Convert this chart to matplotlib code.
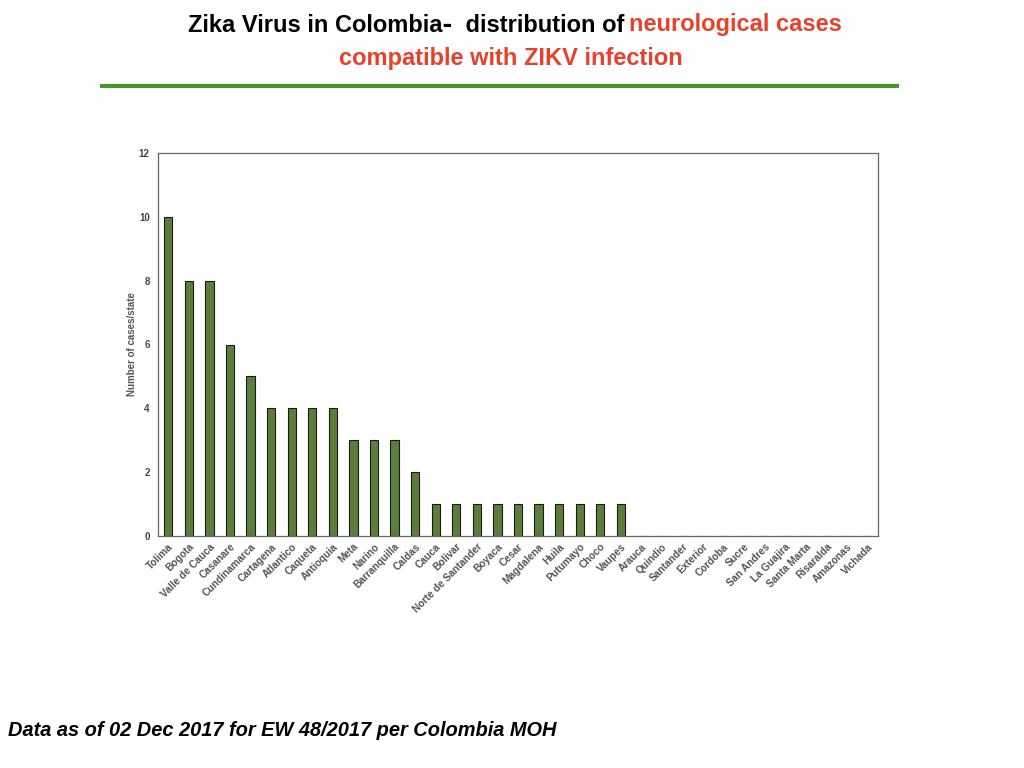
import matplotlib
matplotlib.use('Agg')
import matplotlib.pyplot as plt
import numpy as np

plt.rcParams['font.family'] = ['Liberation Sans', 'DejaVu Sans']

states = ['Tolima', 'Bogota', 'Valle de Cauca', 'Casanare', 'Cundinamarca',
          'Cartagena', 'Atlantico', 'Caqueta', 'Antioquia', 'Meta', 'Narino',
          'Barranquilla', 'Caldas', 'Cauca', 'Bolivar', 'Norte de Santander',
          'Boyaca', 'Cesar', 'Magdalena', 'Huila', 'Putumayo', 'Choco',
          'Vaupes', 'Arauca', 'Quindio', 'Santander', 'Exterior', 'Cordoba',
          'Sucre', 'San Andres', 'La Guajira', 'Santa Marta', 'Risaralda',
          'Amazonas', 'Vichada']
cases = [10, 8, 8, 6, 5, 4, 4, 4, 4, 3, 3, 3, 2, 1, 1, 1, 1, 1, 1, 1, 1, 1,
         1, 0, 0, 0, 0, 0, 0, 0, 0, 0, 0, 0, 0]
yticks = [0, 2, 4, 6, 8, 10, 12]

W, H = 1024, 768
fig = plt.figure(figsize=(W / 100, H / 100), dpi=100)

# plot area in pixel coords: left 158, right 878, top 153, bottom 536
ax = fig.add_axes([158 / W, 1 - 536 / H, (878 - 158) / W, (536 - 153) / H])
x = np.arange(len(states))
ax.bar(x, cases, width=0.4, color='#5b7f3b', edgecolor='#1a1a1a', linewidth=0.8)
ax.set_xlim(-0.5, len(states) - 0.5)
ax.set_ylim(0, 12)
ax.set_yticks(yticks)
ax.set_yticklabels([str(t) for t in yticks], fontsize=7, fontweight='bold', color='#444444')
ax.set_xticks(x)
ax.set_xticklabels(states, rotation=45, ha='right', rotation_mode='anchor',
                   fontsize=7.3, fontweight='bold', color='#555555')
ax.tick_params(axis='both', length=0, pad=6)
ax.tick_params(axis='x', pad=4)
for s in ax.spines.values():
    s.set_color('#666666')
    s.set_linewidth(0.9)
ax.set_ylabel('Number of cases/state', fontsize=7, fontweight='bold', color='#555555', labelpad=1)

# title (two colours on first line)
red = '#e8412a'
fig.text(624 / W, 1 - 25 / H, 'Zika Virus in Colombia\u2011  distribution of', ha='right', va='center',
         fontsize=17, fontweight='bold', color='black')
fig.text(629 / W, 1 - 25 / H, 'neurological cases', ha='left', va='center',
         fontsize=17, fontweight='bold', color=red)
fig.text(511 / W, 1 - 58 / H, 'compatible with ZIKV infection', ha='center', va='center',
         fontsize=17, fontweight='bold', color=red)

# green rule under title
fig.add_artist(plt.Line2D([102 / W, 897 / W], [1 - 86 / H, 1 - 86 / H],
                          transform=fig.transFigure, color='#4a9431', linewidth=3))

fig.text(8 / W, 1 - 730 / H, 'Data as of 02 Dec 2017 for EW 48/2017 per Colombia MOH',
         ha='left', va='center', fontsize=14.4, fontweight='bold', fontstyle='italic')

fig.savefig('out.png', dpi=100)
